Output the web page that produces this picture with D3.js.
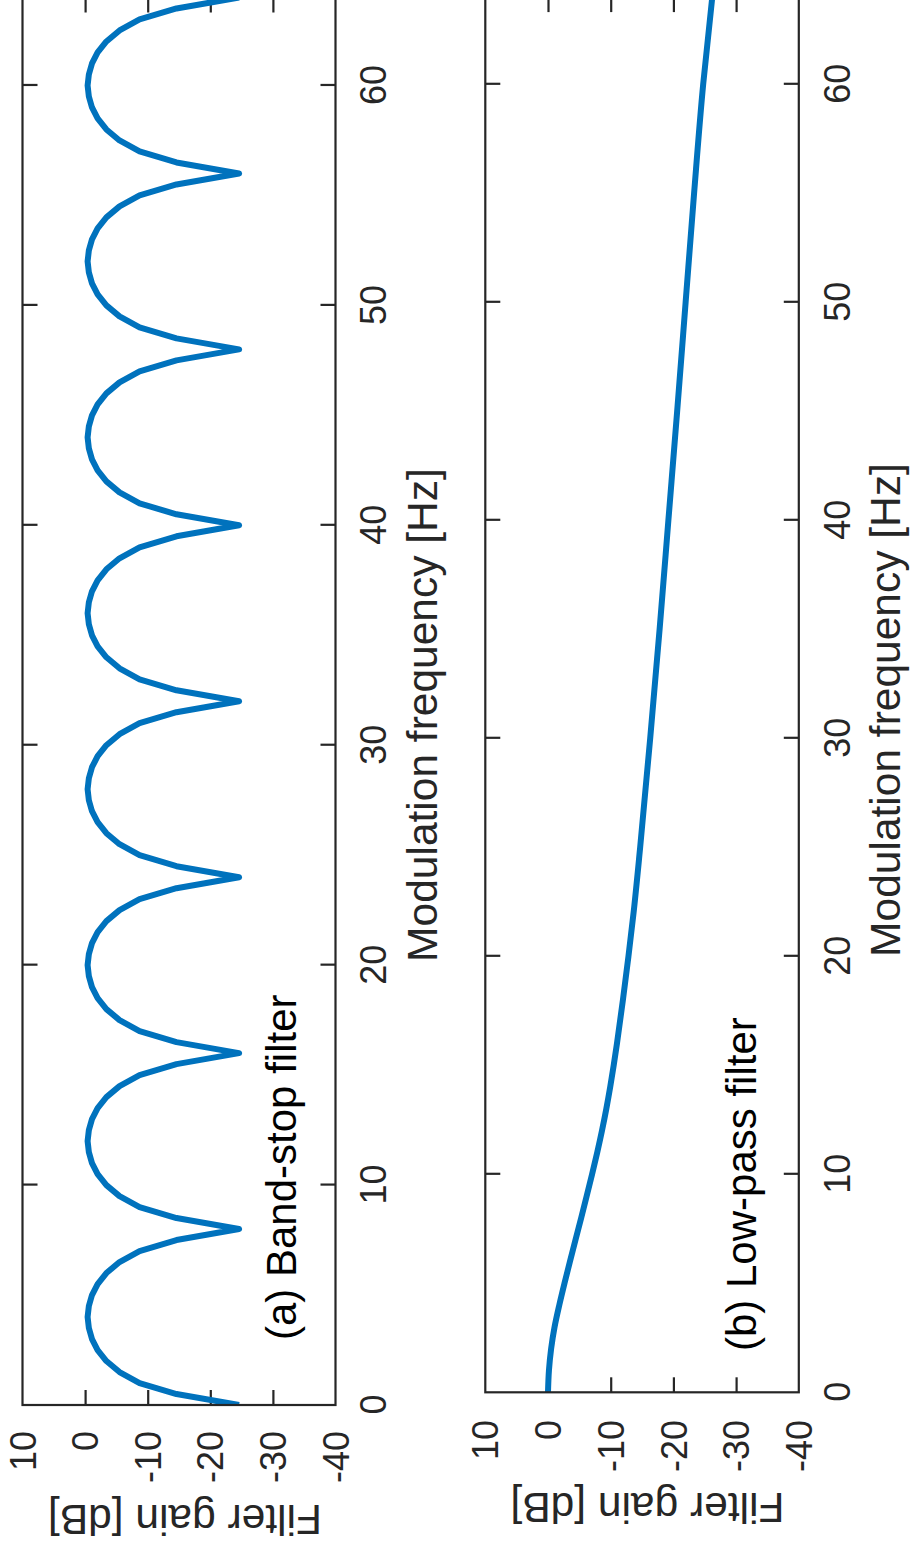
<!DOCTYPE html>
<html>
<head>
<meta charset="utf-8">
<script src="https://cdn.jsdelivr.net/npm/d3@7"></script>
<style>
  html, body { margin: 0; padding: 0; background: #fff; }
  svg { display: block; }
  text { font-family: "Liberation Sans", Arial, Helvetica, sans-serif; }
</style>
</head>
<body>
<div id="chart"></div>
<script>
// Frequency axis ticks [Hz] and gain axis ticks [dB]
const freqTicks = [0, 10, 20, 30, 40, 50, 60];
const gainTicks = [10, 0, -10, -20, -30, -40];
const freqDomain = [0, 64];
const gainDomain = [10, -40];

// (a) Band-stop filter: gain [dB] sampled every 0.5 Hz from 0 to 64 Hz
const bandStopStep = 0.5;
const bandStopGain = [
  -24.6, -14.6, -8.7, -5.5, -3.4, -2.0, -1.1, -0.6, -0.4, -0.6, -1.1, -2.0, -3.4, -5.5, -8.7, -14.6,
  -24.6, -14.6, -8.7, -5.5, -3.4, -2.0, -1.1, -0.6, -0.4, -0.6, -1.1, -2.0, -3.4, -5.5, -8.7, -14.6,
  -24.6, -14.6, -8.7, -5.5, -3.4, -2.0, -1.1, -0.6, -0.4, -0.6, -1.1, -2.0, -3.4, -5.5, -8.7, -14.6,
  -24.6, -14.6, -8.7, -5.5, -3.4, -2.0, -1.1, -0.6, -0.4, -0.6, -1.1, -2.0, -3.4, -5.5, -8.7, -14.6,
  -24.6, -14.6, -8.7, -5.5, -3.4, -2.0, -1.1, -0.6, -0.4, -0.6, -1.1, -2.0, -3.4, -5.5, -8.7, -14.6,
  -24.6, -14.6, -8.7, -5.5, -3.4, -2.0, -1.1, -0.6, -0.4, -0.6, -1.1, -2.0, -3.4, -5.5, -8.7, -14.6,
  -24.6, -14.6, -8.7, -5.5, -3.4, -2.0, -1.1, -0.6, -0.4, -0.6, -1.1, -2.0, -3.4, -5.5, -8.7, -14.6,
  -24.6, -14.6, -8.7, -5.5, -3.4, -2.0, -1.1, -0.6, -0.4, -0.6, -1.1, -2.0, -3.4, -5.5, -8.7, -14.6,
  -24.6
];

// (b) Low-pass filter: frequency [Hz] and gain [dB]
const lowPassFreq = [0, 1, 2, 3, 4, 5, 6, 7, 8, 9, 10, 11, 12, 13, 14, 15, 16, 18, 20, 22, 25, 30, 35, 40, 45, 50, 55, 60, 64];
const lowPassGain = [0, -0.15, -0.5, -1.05, -1.8, -2.63, -3.5, -4.39, -5.29, -6.17, -7.03, -7.85, -8.61, -9.3, -9.92, -10.48, -11.0, -11.95, -12.83, -13.65, -14.7, -16.3, -17.8, -19.2, -20.6, -21.95, -23.3, -24.75, -26.2];

const bandStop = bandStopGain.map((g, i) => ({ f: i * bandStopStep, g }));
const lowPass = lowPassFreq.map((f, i) => ({ f, g: lowPassGain[i] }));

const PAGE_W = 913, PAGE_H = 1552;
const INK = "#262626";
const LINE = "#0072BD";

const svg = d3.select("#chart").append("svg")
  .attr("width", PAGE_W).attr("height", PAGE_H);
svg.append("rect").attr("width", PAGE_W).attr("height", PAGE_H).attr("fill", "#fff");

// The figure is laid out in landscape and turned a quarter turn onto the page
const fig = svg.append("g").attr("transform", `translate(0,${PAGE_H}) rotate(-90)`);

function drawPanel(p) {
  const x = d3.scaleLinear().domain(freqDomain).range([p.left, p.right]);
  const y = d3.scaleLinear().domain(gainDomain).range([p.top, p.bottom]);
  const g = fig.append("g");

  const tick = 15;
  const fmt = d => String(d);

  const bottom = g.append("g").attr("transform", `translate(0,${p.bottom})`)
    .call(d3.axisBottom(x).tickValues(freqTicks).tickFormat(fmt)
      .tickSizeInner(-tick).tickSizeOuter(0).tickPadding(p.xPad));
  const top = g.append("g").attr("transform", `translate(0,${p.top})`)
    .call(d3.axisTop(x).tickValues(freqTicks).tickFormat("")
      .tickSizeInner(-tick).tickSizeOuter(0));
  const left = g.append("g").attr("transform", `translate(${p.left},0)`)
    .call(d3.axisLeft(y).tickValues(gainTicks).tickFormat(fmt)
      .tickSizeInner(-tick).tickSizeOuter(0).tickPadding(p.yPad));
  const right = g.append("g").attr("transform", `translate(${p.right},0)`)
    .call(d3.axisRight(y).tickValues(gainTicks).tickFormat("")
      .tickSizeInner(-tick).tickSizeOuter(0));

  [bottom, top, left, right].forEach(a => {
    a.select(".domain").remove();
    a.selectAll(".tick line").attr("stroke", INK).attr("stroke-width", 2.2);
    a.selectAll(".tick text").attr("fill", INK).attr("font-size", 36);
  });
  // edge ticks coincide with the frame
  left.selectAll(".tick").filter(d => d === 10 || d === -40).select("line").remove();
  right.selectAll(".tick").filter(d => d === 10 || d === -40).select("line").remove();
  bottom.selectAll(".tick").filter(d => d === 0).select("line").remove();
  top.selectAll(".tick").filter(d => d === 0).select("line").remove();
  left.selectAll(".tick text").attr("dy", "0.35em");

  // curve, clipped to the frame
  const clipId = "clip-" + p.id;
  g.append("clipPath").attr("id", clipId).append("rect")
    .attr("x", p.left).attr("y", p.top)
    .attr("width", p.right - p.left).attr("height", p.bottom - p.top);

  const line = d3.line().x(d => x(d.f)).y(d => y(d.g));
  if (p.smooth) line.curve(d3.curveMonotoneX);
  g.append("path").datum(p.data)
    .attr("clip-path", `url(#${clipId})`)
    .attr("fill", "none").attr("stroke", LINE).attr("stroke-width", 6)
    .attr("stroke-linejoin", "round").attr("stroke-linecap", "butt")
    .attr("d", line);

  // frame
  g.append("rect")
    .attr("x", p.left).attr("y", p.top)
    .attr("width", p.right - p.left).attr("height", p.bottom - p.top)
    .attr("fill", "none").attr("stroke", INK).attr("stroke-width", 2.2);

  // axis titles
  g.append("text")
    .attr("x", p.xLabelCenter).attr("y", p.xLabelBaseline)
    .attr("text-anchor", "middle").attr("font-size", 42.5).attr("fill", INK)
    .text("Modulation frequency [Hz]");
  g.append("text")
    .attr("transform", `translate(${p.yLabelBaseline},${p.yLabelCenter}) rotate(-90)`)
    .attr("text-anchor", "middle").attr("font-size", 42.5).attr("fill", INK)
    .text("Filter gain [dB]");

  // panel caption
  g.append("text")
    .attr("x", p.capX).attr("y", p.capY)
    .attr("font-size", 42).attr("fill", "#000")
    .text(p.caption);
}

drawPanel({
  id: "a", data: bandStop, smooth: false,
  left: 147, right: 1554.5, top: 22.5, bottom: 335.5,
  xPad: 24.5, yPad: 26,
  xLabelCenter: 837, xLabelBaseline: 437,
  yLabelCenter: 185, yLabelBaseline: 47,
  capX: 212, capY: 296, caption: "(a) Band-stop filter"
});

drawPanel({
  id: "b", data: lowPass, smooth: true,
  left: 159.7, right: 1554.9, top: 485.3, bottom: 798.8,
  xPad: 26, yPad: 27.7,
  xLabelCenter: 842, xLabelBaseline: 900,
  yLabelCenter: 647.5, yLabelBaseline: 59,
  capX: 201, capY: 756, caption: "(b) Low-pass filter"
});
</script>
</body>
</html>
